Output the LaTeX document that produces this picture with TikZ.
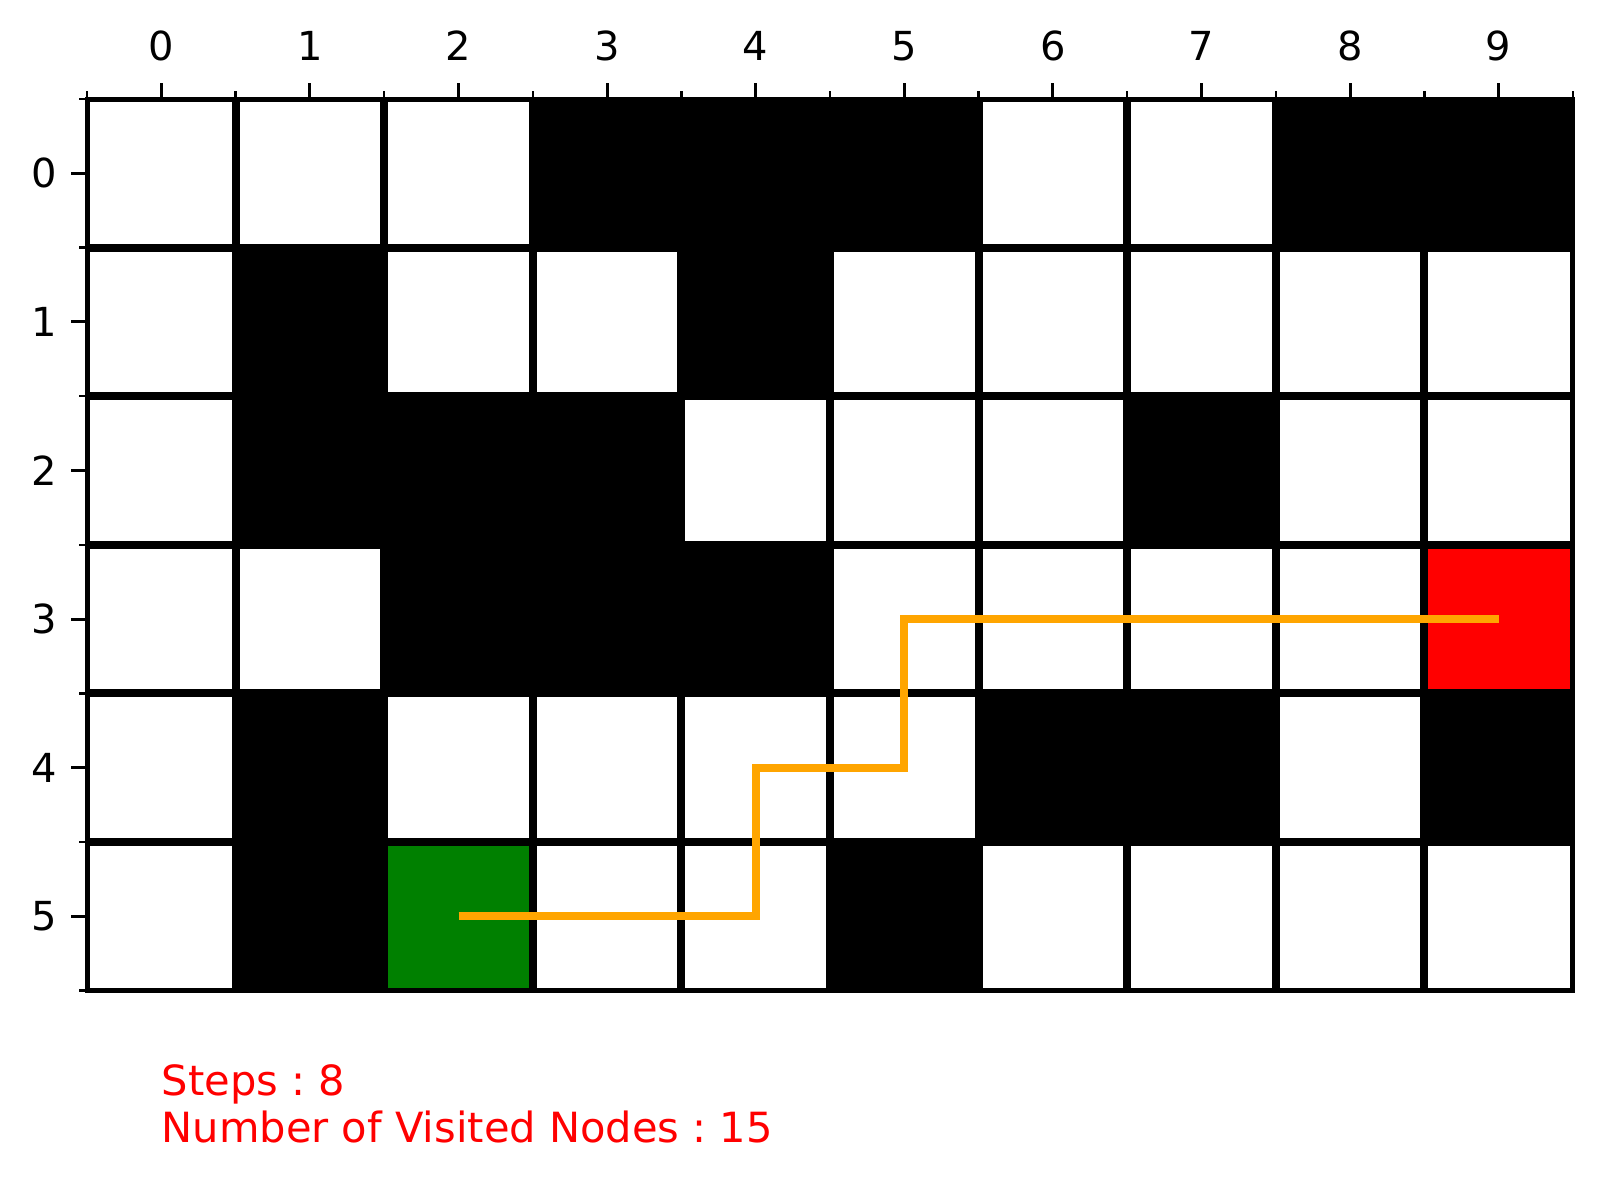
\documentclass[tikz,border=0pt]{standalone}
\usepackage{fontspec}
\setmainfont{DejaVu Sans}
\frenchspacing
\definecolor{mplgreen}{HTML}{008000}
\definecolor{mplorange}{HTML}{FFA500}
\begin{document}
\begin{tikzpicture}[x=74.3pt,y=-74.3pt,
  gridline/.style={line width=4pt},
  majortick/.style={line width=1.5pt},
  minortick/.style={line width=1.2pt},
  ticklabel/.style={inner sep=0pt,font=\fontsize{20}{24}\selectfont},
  info/.style={inner sep=0pt,anchor=base west,text=red,font=\fontsize{20.8}{24}\selectfont},
  route/.style={mplorange,line width=4pt,line join=miter}]
  \useasboundingbox (-1.0855,-1.1667) rectangle (9.702,6.773);
  % walls
  \foreach \c/\r in {3/0,4/0,5/0,8/0,9/0,1/1,4/1,1/2,2/2,3/2,7/2,2/3,3/3,4/3,1/4,6/4,7/4,9/4,1/5,5/5}
    \fill (\c-0.5,\r-0.5) rectangle (\c+0.5,\r+0.5);
  % start and goal
  \fill[mplgreen] (1.5,4.5) rectangle (2.5,5.5);
  \fill[red] (8.5,2.5) rectangle (9.5,3.5);
  % grid
  \foreach \i in {1,...,9} \draw[gridline] (\i-0.5,-0.5) -- (\i-0.5,5.5);
  \foreach \j in {1,...,5} \draw[gridline] (-0.5,\j-0.5) -- (9.5,\j-0.5);
  \draw[line width=2.5pt] (-0.5,-0.5) rectangle (9.5,5.5);
  % ticks
  \foreach \x in {0,...,9} {
    \draw[majortick] (\x,-0.5) -- ++(0,8pt);
    \node[ticklabel,anchor=base] (xl\x) at (\x,-0.758) {\x};
  }
  \foreach \i in {0,...,10} \draw[minortick] (\i-0.5,-0.5) -- ++(0,4pt);
  \foreach \y in {0,...,5} {
    \draw[majortick] (-0.5,\y) -- ++(-8pt,0);
    \node[ticklabel,anchor=east] (yl\y) at (-0.70,\y) {\y};
  }
  \foreach \j in {0,...,6} \draw[minortick] (-0.5,\j-0.5) -- ++(-4pt,0);
  % path found
  \coordinate (start) at (2,5);
  \coordinate (c1) at (4,5);
  \coordinate (c2) at (4,4);
  \coordinate (c3) at (5,4);
  \coordinate (c4) at (5,3);
  \coordinate (goal) at (9,3);
  \draw[route] (start) -- (c1) -- (c2) -- (c3) -- (c4) -- (goal);
  % result
  \node[info] (steps) at (0,6.207) {Steps : 8};
  \node[info] (visited) at (0,6.52) {Number of Visited Nodes : 15};
\end{tikzpicture}
\end{document}
